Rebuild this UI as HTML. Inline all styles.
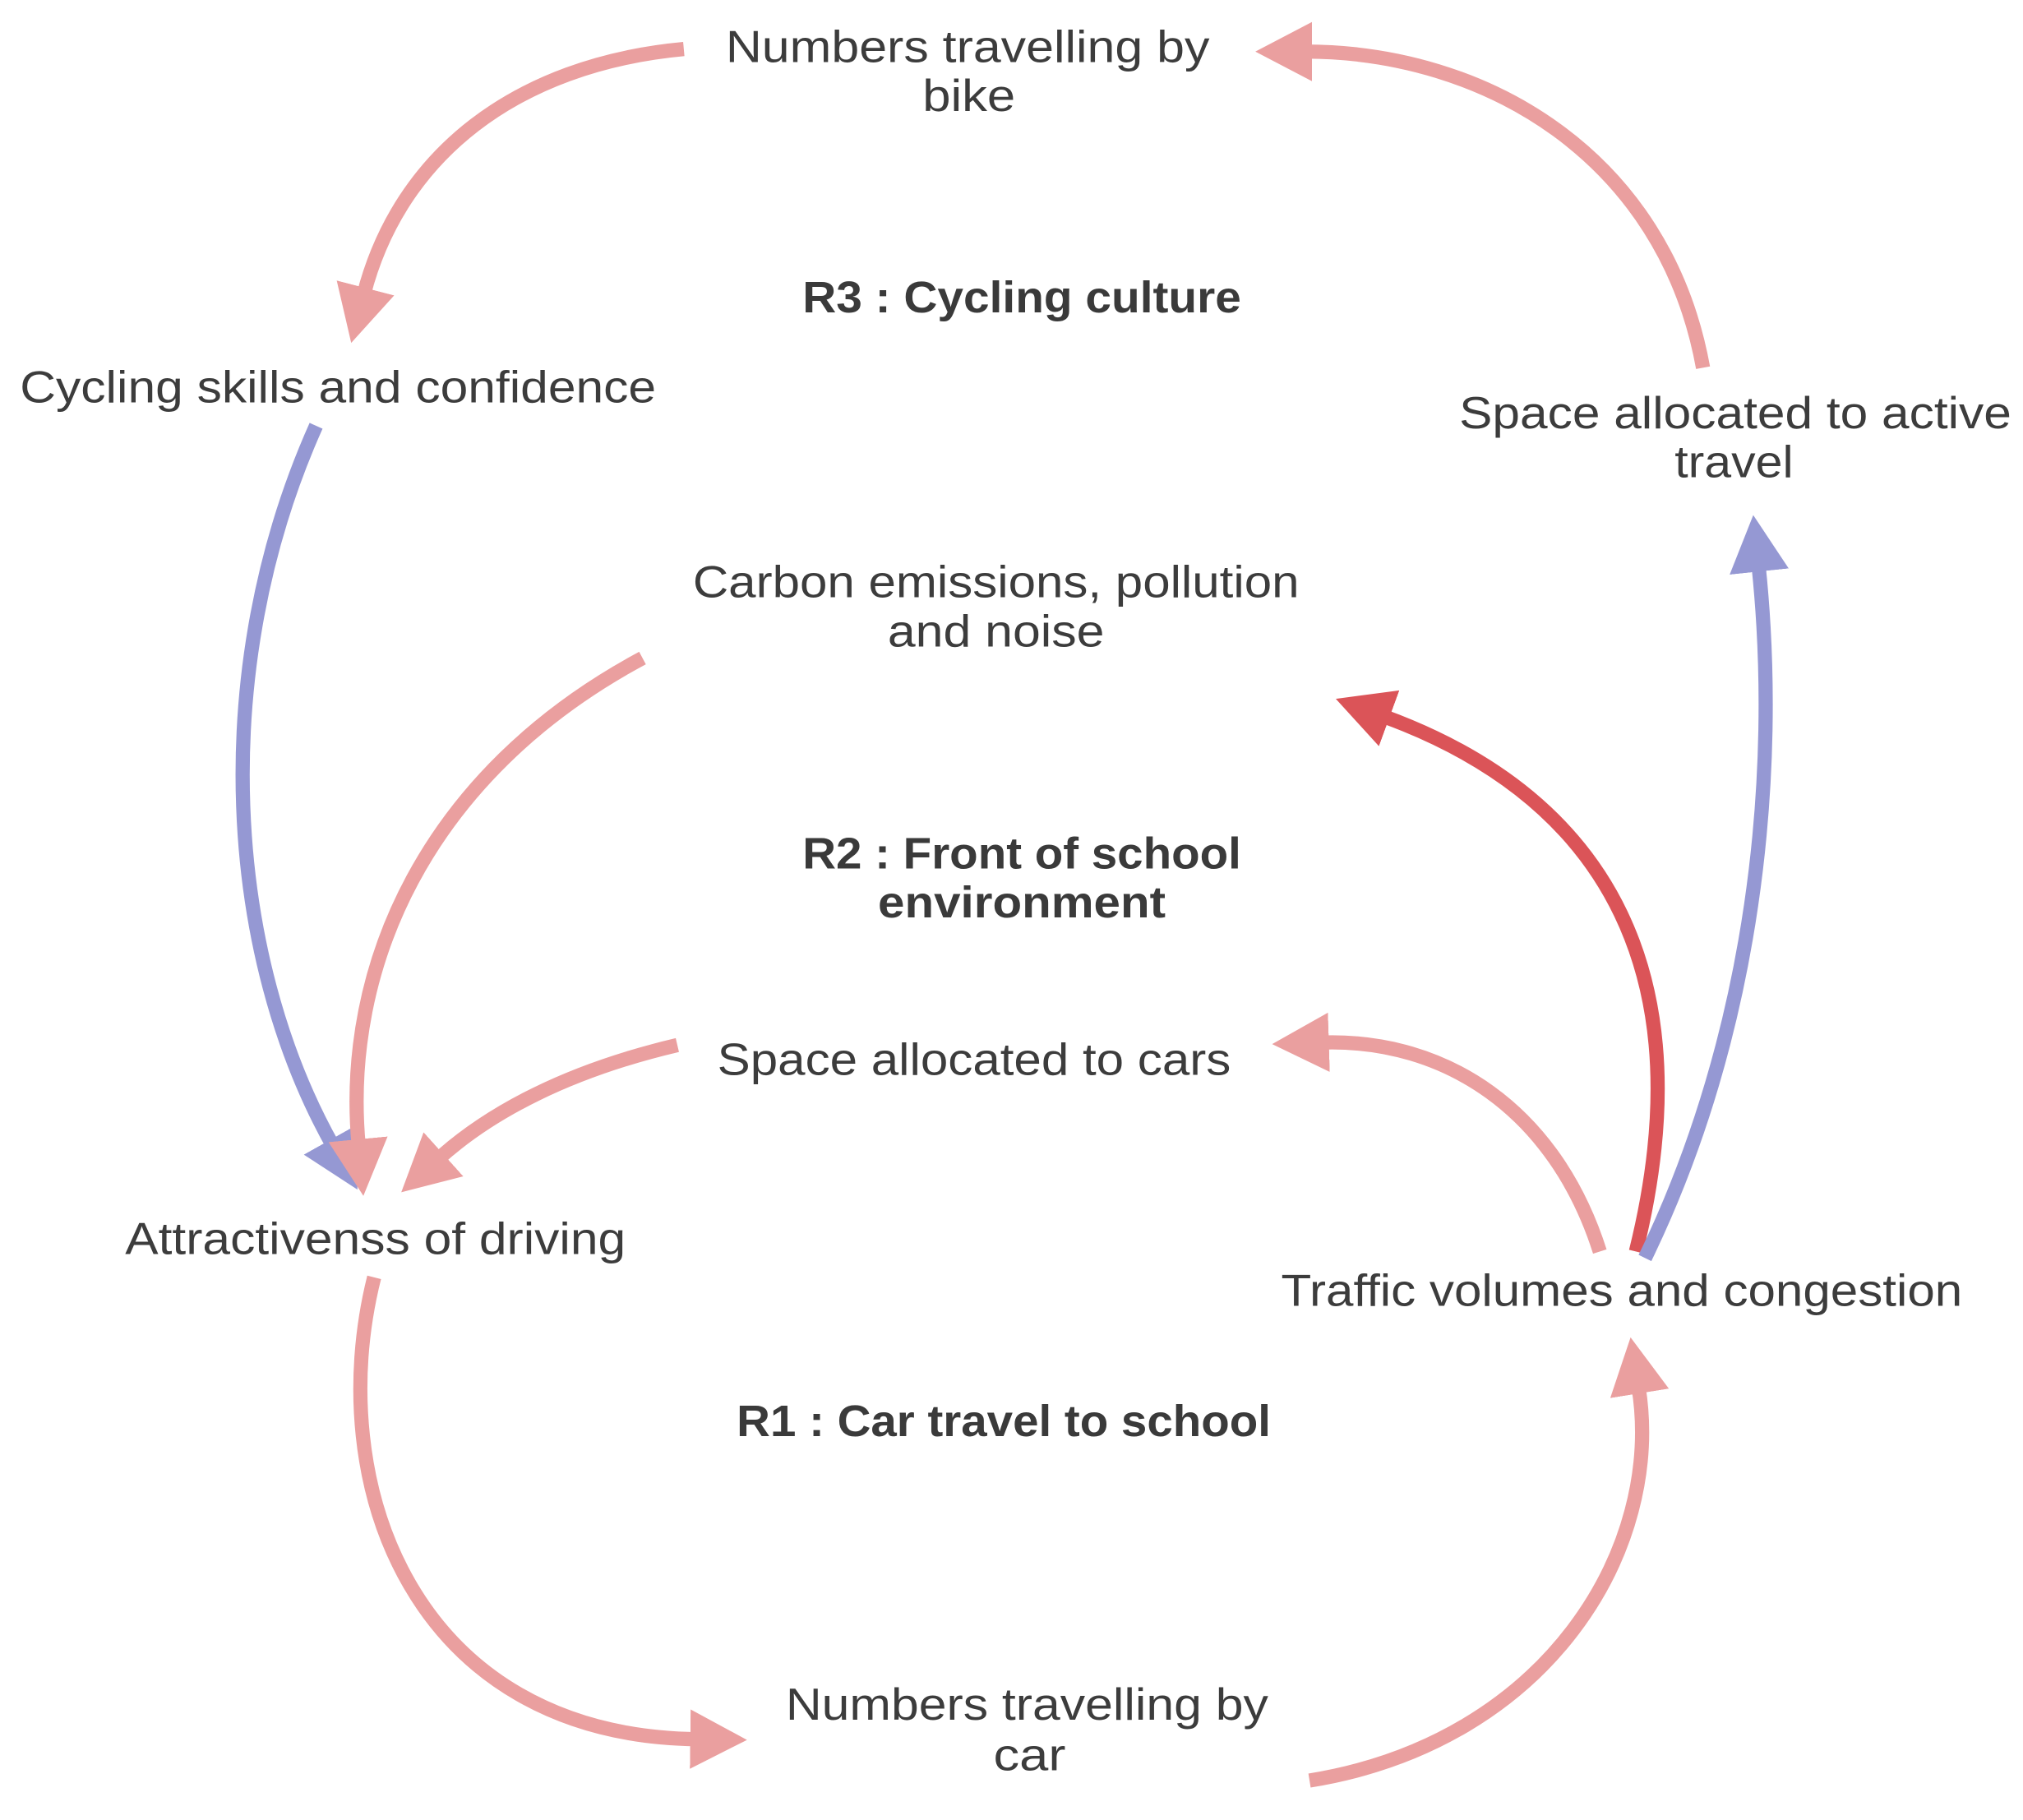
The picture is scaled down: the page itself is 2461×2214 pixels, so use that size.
<!DOCTYPE html>
<html><head><meta charset="utf-8"><style>
html,body{margin:0;padding:0;background:#fff;}
svg{display:block;}
text{font-family:"Liberation Sans",sans-serif;fill:#3c3c3c;font-size:35px;text-anchor:middle;}
.b{font-weight:bold;fill:#3a3a3a;font-size:34px;}
</style></head><body>
<svg width="2461" height="2214" viewBox="0 0 1568 1410.6" preserveAspectRatio="none" xmlns="http://www.w3.org/2000/svg">
<defs>
<marker id="mp" markerUnits="userSpaceOnUse" markerWidth="50" markerHeight="50" refX="5" refY="25" orient="auto"><path d="M0,2 L44,25 L0,48 Z" fill="#e99797"/></marker>
<marker id="mb" markerUnits="userSpaceOnUse" markerWidth="50" markerHeight="50" refX="5" refY="25" orient="auto"><path d="M0,2 L44,25 L0,48 Z" fill="#8d90d0"/></marker>
<marker id="mr" markerUnits="userSpaceOnUse" markerWidth="50" markerHeight="50" refX="5" refY="25" orient="auto"><path d="M0,2 L44,25 L0,48 Z" fill="#d9464a"/></marker>
</defs>
<g fill="none" stroke-width="11" stroke-linecap="butt" opacity="0.92">
<path d="M530,38 C400,50 310,120 282,228" stroke="#e99797" marker-end="url(#mp)"/>
<path d="M1320,285 C1290,120 1150,40 1012,40" stroke="#e99797" marker-end="url(#mp)"/>
<path d="M245,330 C160,520 175,740 258,888" stroke="#8d90d0" marker-end="url(#mb)"/>
<path d="M498,510 C330,600 265,750 278,888" stroke="#e99797" marker-end="url(#mp)"/>
<path d="M525,810 C440,830 380,862 340,898" stroke="#e99797" marker-end="url(#mp)"/>
<path d="M1240,970 C1205,860 1120,805 1025,808" stroke="#e99797" marker-end="url(#mp)"/>
<path d="M1268,970 C1320,760 1250,620 1072,555" stroke="#d9464a" marker-end="url(#mr)"/>
<path d="M1275,975 C1360,800 1380,600 1363,438" stroke="#8d90d0" marker-end="url(#mb)"/>
<path d="M290,990 C250,1150 320,1345 540,1348" stroke="#e99797" marker-end="url(#mp)"/>
<path d="M1015,1380 C1200,1350 1290,1200 1270,1075" stroke="#e99797" marker-end="url(#mp)"/>
</g>
<g lengthAdjust="spacingAndGlyphs">
<text x="750" y="48" textLength="375" lengthAdjust="spacingAndGlyphs">Numbers travelling by</text>
<text x="751" y="86" textLength="72" lengthAdjust="spacingAndGlyphs">bike</text>
<text x="792" y="242" class="b" textLength="340" lengthAdjust="spacingAndGlyphs">R3 : Cycling culture</text>
<text x="262" y="312" textLength="493" lengthAdjust="spacingAndGlyphs">Cycling skills and confidence</text>
<text x="1345" y="332" textLength="428" lengthAdjust="spacingAndGlyphs">Space allocated to active</text>
<text x="1344" y="370" textLength="92" lengthAdjust="spacingAndGlyphs">travel</text>
<text x="772" y="463" textLength="470" lengthAdjust="spacingAndGlyphs">Carbon emissions, pollution</text>
<text x="772" y="501" textLength="168" lengthAdjust="spacingAndGlyphs">and noise</text>
<text x="792" y="673" class="b" textLength="340" lengthAdjust="spacingAndGlyphs">R2 : Front of school</text>
<text x="792" y="711" class="b" textLength="223" lengthAdjust="spacingAndGlyphs">environment</text>
<text x="755" y="833" textLength="398" lengthAdjust="spacingAndGlyphs">Space allocated to cars</text>
<text x="291" y="972" textLength="388" lengthAdjust="spacingAndGlyphs">Attractivenss of driving</text>
<text x="1257" y="1012" textLength="528" lengthAdjust="spacingAndGlyphs">Traffic volumes and congestion</text>
<text x="778" y="1113" class="b" textLength="414" lengthAdjust="spacingAndGlyphs">R1 : Car travel to school</text>
<text x="796" y="1333" textLength="374" lengthAdjust="spacingAndGlyphs">Numbers travelling by</text>
<text x="798" y="1372" textLength="56" lengthAdjust="spacingAndGlyphs">car</text>
</g>
</svg>
</body></html>
